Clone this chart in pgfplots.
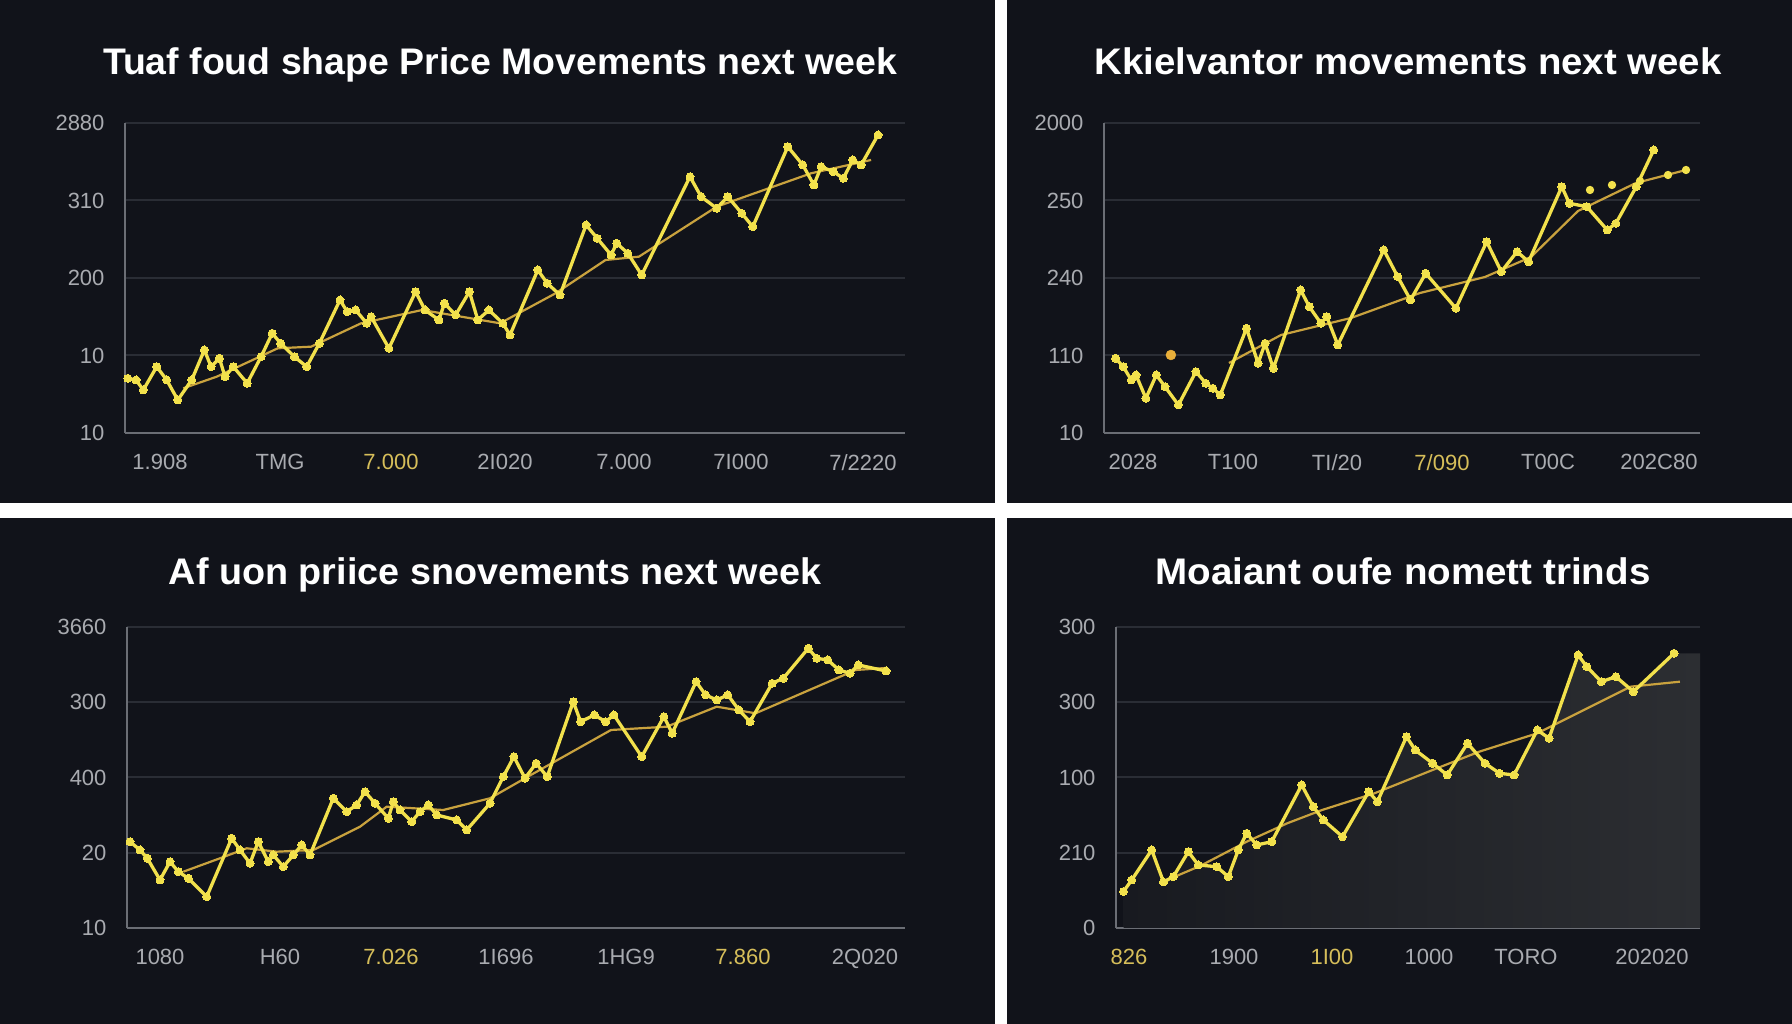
\documentclass[border=0pt]{standalone}
\usepackage{fontspec}
\setmainfont{Liberation Sans}
\usepackage{graphicx}
\usepackage{pgfplots}
\pgfplotsset{compat=1.18}

\definecolor{bg}{HTML}{11131A}
\definecolor{gridc}{HTML}{2A2D35}
\definecolor{axc}{HTML}{6B6E75}
\definecolor{tickc}{HTML}{A9ABB0}
\definecolor{yel}{HTML}{F2E14C}
\definecolor{trend}{HTML}{C9A23E}
\definecolor{laby}{HTML}{D6BE5A}
\definecolor{orng}{HTML}{E8AE3A}
\definecolor{shadeL}{HTML}{181A20}
\definecolor{shadeR}{HTML}{2C2E32}

\pgfplotsset{
  panel/.style={
    scale only axis,
    axis x line*=bottom, axis y line*=left,
    axis line style={-, axc, line width=2.2pt},
    ymajorgrids, grid style={gridc, line width=2pt},
    major tick length=0pt,
    tick style={draw=none},
    ticklabel style={font=\fontsize{22}{26}\selectfont, text=tickc},
    xticklabel style={yshift=-18pt},
    yticklabel style={xshift=-17pt},
    clip=false,
    /pgf/number format/assume math mode=true,
  },
  mainline/.style={yel, line width=3.3pt, mark=*, mark size=4pt,
    mark options={fill=yel, draw=yel, line width=0pt}, line join=round},
  trendline/.style={trend, line width=2.2pt, line join=round},
}

\newcommand{\ttl}[2]{\resizebox{#1}{\height}{\fontsize{37}{40}\selectfont\bfseries #2}}

\begin{document}
\begin{tikzpicture}
\useasboundingbox (0,0) rectangle (1792pt,1024pt);
\fill[white] (0,0) rectangle (1792pt,1024pt);
\fill[bg] (0pt,521pt) rectangle (995pt,1024pt);
\fill[bg] (1007pt,521pt) rectangle (1792pt,1024pt);
\fill[bg] (0pt,0pt) rectangle (995pt,506pt);
\fill[bg] (1007pt,0pt) rectangle (1792pt,506pt);

% titles
\node[anchor=base, text=white, inner sep=0] at (500pt,949pt) {\ttl{794pt}{Tuaf foud shape Price Movements next week}};
\node[anchor=base, text=white, inner sep=0] at (1408pt,949pt) {\ttl{627pt}{Kkielvantor movements next week}};
\node[anchor=base, text=white, inner sep=0] at (495pt,439pt) {\ttl{652pt}{Af uon priice snovements next week}};
\node[anchor=base, text=white, inner sep=0] at (1403pt,439pt) {\ttl{495pt}{Moaiant oufe nomett trinds}};

% ---------- top left ----------
\begin{axis}[panel, at={(125pt,591pt)}, anchor=south west,
  width=780pt, height=310pt, xmin=125, xmax=905, ymin=0, ymax=310,
  ytick={0,77.5,155,232.5,310}, yticklabels={10,10,200,310,2880},
  xtick={160,280,391,505,624,741,863},
  xticklabels={1.908,TMG,\textcolor{laby}{7.000},2I020,7.000,7I000,7/2220}]
\addplot[trendline] coordinates {
(183.3,44.7) (216.7,56.3) (277.8,84.7) (311.1,86.3) (361.1,109.7) (422.2,123.0)
(500,109.7) (555.6,139.7) (605.6,173) (638.9,176.3) (716.7,226.3) (811.1,259.7) (871.1,273)};
\addplot[mainline] coordinates {
(127.8,54.7) (136.1,53.0) (143.3,43.0) (156.7,66.3) (166.7,53.0) (177.8,33.0)
(191.7,53.0) (204.4,83.0) (211.1,66.3) (219.4,74.7) (225.0,56.3) (233.3,66.3)
(247.2,49.7) (261.1,76.3) (272.2,99.7) (280.6,89.7) (294.4,76.3) (306.7,66.3)
(319.4,89.7) (340.0,133.0) (347.2,121.3) (355.6,123.0) (366.7,109.7) (371.1,116.3)
(388.9,84.7) (415.6,141.3) (425.0,123.0) (438.9,113.0) (444.4,129.7) (455.6,118.0)
(469.4,141.3) (477.8,113.0) (488.9,123.0) (502.8,109.7) (510.0,98.0) (537.8,163.0)
(547.2,149.7) (560.0,138.0) (586.1,208.0) (597.2,194.7) (611.1,178.0) (616.7,189.7)
(627.8,179.7) (641.7,158.0) (690.0,256.3) (701.1,236.3) (716.7,224.7) (727.8,236.3)
(741.7,219.7) (752.8,206.3) (787.8,286.3) (802.8,268.0) (813.9,248.0) (821.1,266.3)
(833.3,261.3) (843.3,254.7) (852.8,273.0) (861.1,268.0) (878,298)};
\end{axis}

% ---------- top right ----------
\begin{axis}[panel, at={(1104pt,591pt)}, anchor=south west,
  width=596pt, height=310pt, xmin=1104, xmax=1700, ymin=0, ymax=310,
  ytick={0,77.5,155,232.5,310}, yticklabels={10,110,240,250,2000},
  xtick={1133,1233,1337,1442,1548,1659},
  xticklabels={2028,T100,TI/20,\textcolor{laby}{7/090},T00C,202C80}]
\addplot[trendline] coordinates {
(1229,70) (1281,98) (1351,115) (1420,140) (1485,156) (1531,176) (1578,222) (1636,250) (1686,263)};
\addplot[trendline, only marks, mark=*, mark size=3pt, mark options={fill=yel,draw=yel}] coordinates {
(1590,243) (1612,248) (1640,252) (1668,258) (1686,263)};
\addplot[mainline] coordinates {
(1115.6,74.7) (1123.2,66.3) (1131.3,53.0) (1136.0,58.0) (1145.9,34.7) (1156.3,58.0)
(1165.0,46.3) (1178.4,28.0) (1195.9,61.3) (1205.8,49.7) (1212.8,44.7) (1220.3,38.0)
(1246.5,104.7) (1258.1,69.7) (1265.1,89.7) (1273.3,64.7) (1300.6,143.0) (1309.3,126.3)
(1320.9,109.7) (1326.8,116.3) (1337.8,88.0) (1383.8,183.0) (1397.7,156.3) (1410.5,133.0)
(1425.7,159.7) (1455.9,124.7) (1486.7,191.3) (1501.3,161.3) (1517.0,181.3) (1528.6,171.3)
(1561.8,246.3) (1569.3,229.7) (1586.8,226.3) (1607.2,203.0) (1615.9,209.7) (1636.3,246.3)
(1653.7,283.0)};
\addplot[only marks, mark=*, mark size=5pt, mark options={fill=orng, draw=orng}] coordinates {(1170.9,78)};
\end{axis}

% ---------- bottom left ----------
\begin{axis}[panel, at={(127pt,96pt)}, anchor=south west,
  width=778pt, height=301pt, xmin=127, xmax=905, ymin=0, ymax=301,
  ytick={0,75.25,150.5,225.75,301}, yticklabels={10,20,400,300,3660},
  xtick={160,280,391,506,626,743,865},
  xticklabels={1080,H60,\textcolor{laby}{7.026},1I696,1HG9,\textcolor{laby}{7.860},2Q020}]
\addplot[trendline] coordinates {
(183.3,56.3) (220,69.7) (246.7,79.7) (276.7,76.3) (313.3,78) (360,101.3) (386.7,121.3)
(443.3,118) (490,129.7) (527.8,151.3) (611,198) (666.7,201.3) (716.7,221.3) (755.6,214.7)
(855.6,258) (886,260)};
\addplot[mainline] coordinates {
(130,86.3) (140,78) (147.3,69.7) (160,48) (170,66.3) (178.3,56.3) (188.3,49.7)
(206.7,31.3) (231.7,89.7) (240,78) (250,64.7) (258.3,86.3) (268.3,66.3) (273.3,73)
(283.3,61.3) (293.3,73) (301.7,83) (310,73) (333.3,129.7) (346.7,116.3) (356.7,123)
(365,136.3) (375,124.7) (388.3,109.7) (393.3,126.3) (400,118) (411.7,106.3) (420,116.3)
(428.3,123) (436.7,113) (456.7,108) (466.7,98) (490,124.7) (503.3,151.3) (513.9,171.3)
(525,149.7) (536.1,164.7) (547.2,151.3) (573.3,226.3) (580.6,206.3) (594.4,213)
(605.6,206.3) (613.9,213) (641.7,171.3) (663.9,211.3) (672.2,194.7) (696.1,246.3)
(705.6,233) (716.7,228) (727.8,233) (738.9,218) (750,206.3) (772.2,244.7) (783.3,249.7)
(808.3,279.7) (816.7,269.7) (827.8,268) (838.9,258) (850,254.7) (858.3,263) (886,257)};
\end{axis}

% ---------- bottom right ----------
\begin{axis}[panel, at={(1116pt,96pt)}, anchor=south west,
  width=584pt, height=301pt, xmin=1116, xmax=1700, ymin=0, ymax=301,
  ytick={0,75.25,150.5,225.75,301}, yticklabels={0,210,100,300,300},
  xtick={1129,1234,1332,1429,1526,1652},
  xticklabels={\textcolor{laby}{826},1900,\textcolor{laby}{1I00},1000,TORO,202020}]
\addplot[draw=none, left color=shadeL, right color=shadeR] coordinates {
(1123.5,36.5) (1131.7,48) (1151.7,78) (1163.5,46) (1173.3,51.3) (1188.3,76.3)
(1198.3,63) (1216.7,61.3) (1228.3,51.3) (1238.3,78) (1246.7,94.7) (1256.7,83)
(1271.7,86.3) (1301.7,143) (1313.3,121.3) (1323.3,108) (1342.5,91.3) (1368.7,136.3)
(1377.4,126.3) (1406.5,191.3) (1415.2,178) (1432.6,164.7) (1447.2,153) (1467.5,184.7)
(1485,164.7) (1499.5,154.7) (1514,153) (1537.3,198) (1549,189.7) (1578.1,273)
(1586.8,261.3) (1601.3,246.3) (1615.9,251.3) (1633.4,236.3) (1674,274.7) (1700,274.7)} \closedcycle;
\addplot[trendline] coordinates {
(1160,45) (1200,62) (1246.7,86.3) (1287.2,104.7) (1322.1,118) (1374.5,134.7)
(1432.6,158) (1479.2,176.3) (1537.3,194.7) (1630.4,241.3) (1679.9,246.3)};
\addplot[mainline] coordinates {
(1123.5,36.5) (1131.7,48) (1151.7,78) (1163.5,46) (1173.3,51.3) (1188.3,76.3)
(1198.3,63) (1216.7,61.3) (1228.3,51.3) (1238.3,78) (1246.7,94.7) (1256.7,83)
(1271.7,86.3) (1301.7,143) (1313.3,121.3) (1323.3,108) (1342.5,91.3) (1368.7,136.3)
(1377.4,126.3) (1406.5,191.3) (1415.2,178) (1432.6,164.7) (1447.2,153) (1467.5,184.7)
(1485,164.7) (1499.5,154.7) (1514,153) (1537.3,198) (1549,189.7) (1578.1,273)
(1586.8,261.3) (1601.3,246.3) (1615.9,251.3) (1633.4,236.3) (1674,274.7)};
\end{axis}
\end{tikzpicture}
\end{document}
